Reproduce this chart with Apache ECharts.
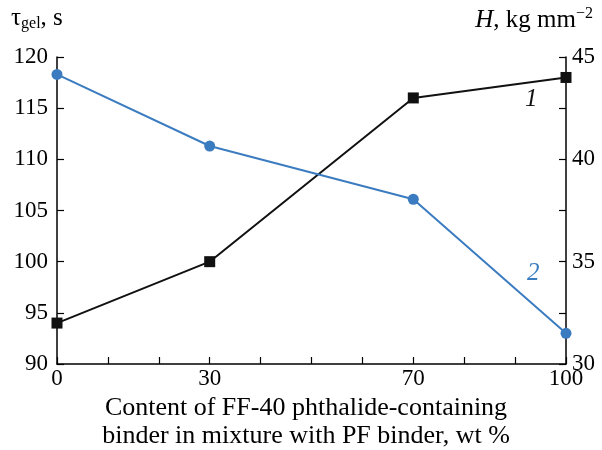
<!DOCTYPE html>
<html>
<head>
<meta charset="utf-8">
<script src="https://cdn.jsdelivr.net/npm/echarts@6/dist/echarts.min.js"></script>
<style>
    html, body { margin: 0; padding: 0; background: #fff; }
    #chart { width: 602px; height: 450px; }
</style>
</head>
<body>
<div id="chart"></div>
<script>
// data
var content = [0, 30, 70, 100];          // wt % of FF-40 binder
var hardness = [32, 35, 43, 44];         // series 1, H, kg mm^-2 (right axis)
var gelTime = [118.3, 111.3, 106.1, 93]; // series 2, tau_gel, s (left axis)
var xLabels = [0, 30, 70, 100];

var FONT = "Liberation Serif";
var FS = 23;
var BLUE = "#3b7cc0";

function pairs(xs, ys) {
    return xs.map(function(x, i) { return [x, ys[i]]; });
}

var myChart = echarts.init(document.getElementById("chart"));

var option = {
    animation: false,
    grid: { left: 57, right: 36, top: 57, bottom: 86 },
    textStyle: { fontFamily: FONT },
    xAxis: {
        type: "value",
        min: 0, max: 100, interval: 10,
        axisLine: { lineStyle: { color: "#000", width: 1.5 } },
        axisTick: { inside: true, length: 7, lineStyle: { color: "#000", width: 1.2 } },
        axisLabel: {
            color: "#000", fontSize: FS, fontFamily: FONT, margin: 3,
            formatter: function(v) { return xLabels.indexOf(v) >= 0 ? String(v) : ""; }
        },
        splitLine: { show: false }
    },
    yAxis: [{
        type: "value",
        min: 90, max: 120, interval: 5,
        axisLine: { show: true, lineStyle: { color: "#000", width: 1.5 } },
        axisTick: { show: true, inside: true, length: 7, lineStyle: { color: "#000", width: 1.2 } },
        axisLabel: { color: "#000", fontSize: FS, fontFamily: FONT, margin: 9 },
        splitLine: { show: false }
    }, {
        type: "value",
        min: 30, max: 45, interval: 2.5,
        axisLine: { show: true, lineStyle: { color: "#000", width: 1.5 } },
        axisTick: { show: true, inside: true, length: 7, lineStyle: { color: "#000", width: 1.2 } },
        axisLabel: {
            color: "#000", fontSize: FS, fontFamily: FONT, margin: 6,
            formatter: function(v) { return v % 5 === 0 ? String(v) : ""; }
        },
        splitLine: { show: false }
    }],
    series: [{
        name: "1",
        type: "line",
        yAxisIndex: 1,
        data: pairs(content, hardness),
        symbol: "rect",
        symbolSize: 11,
        itemStyle: { color: "#111" },
        lineStyle: { color: "#111", width: 2 }
    }, {
        name: "2",
        type: "line",
        yAxisIndex: 0,
        data: pairs(content, gelTime),
        symbol: "circle",
        symbolSize: 11,
        itemStyle: { color: BLUE },
        lineStyle: { color: BLUE, width: 2 }
    }],
    graphic: [{
        type: "text", left: 11, top: 6,
        style: {
            text: "{t|τ}{s|gel}{t|, s}",
            rich: {
                t: { fontFamily: FONT, fontSize: 25, fill: "#000" },
                s: { fontFamily: FONT, fontSize: 16, fill: "#000", padding: [10, 0, 0, 0] }
            }
        }
    }, {
        type: "text", right: 9, top: 6,
        style: {
            text: "{i|H}{t|, kg mm}{p|−2}",
            rich: {
                i: { fontFamily: FONT, fontSize: 25, fontStyle: "italic", fill: "#000" },
                t: { fontFamily: FONT, fontSize: 25, fill: "#000" },
                p: { fontFamily: FONT, fontSize: 16, fill: "#000", padding: [0, 0, 12, 0] }
            }
        }
    }, {
        type: "text", left: 525, top: 87,
        style: { text: "1", fontFamily: FONT, fontSize: 25, fontStyle: "italic", fill: "#111" }
    }, {
        type: "text", left: 527, top: 261,
        style: { text: "2", fontFamily: FONT, fontSize: 25, fontStyle: "italic", fill: BLUE }
    }, {
        type: "text", x: 306, y: 394,
        style: {
            text: "Content of FF-40 phthalide-containing\nbinder in mixture with PF binder, wt %",
            fontFamily: FONT, fontSize: 26, fill: "#000", align: "center", lineHeight: 28
        }
    }]
};

myChart.setOption(option);
</script>
</body>
</html>
